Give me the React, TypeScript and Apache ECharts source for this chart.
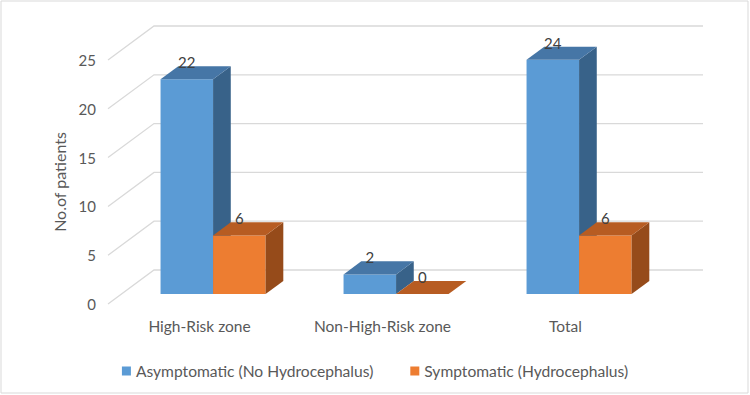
import { useEffect, useRef } from "react";
import * as echarts from "echarts";

const categories = ["High-Risk zone", "Non-High-Risk zone", "Total"];
const asymptomatic = [22, 2, 24];
const symptomatic = [6, 0, 6];
const yTicks = [0, 5, 10, 15, 20, 25];
const seriesNames = ["Asymptomatic (No Hydrocephalus)", "Symptomatic (Hydrocephalus)"];

// depth vector of the 3D plot box (front plane -> back wall), in px
const WALL: [number, number] = [46, -34];
// bar front / back faces as fractions of the box depth
const BAR_FRONT = 0.295;
const BAR_BACK = 0.68;
// bar width as a fraction of a category band
const BAR_FRAC = 0.287;

const FONT = "Lato, 'Open Sans', sans-serif";

const shades = [
  { front: "#5b9bd5", top: "#4676a6", side: "#386289" },
  { front: "#ed7d31", top: "#b75c22", side: "#964b1a" },
];

function makeBarRenderer(seriesIndex: number) {
  const c = shades[seriesIndex];
  return (params: any, api: any) => {
    const cat = api.value(0);
    const val = api.value(1);
    const base = api.coord([cat, 0]);
    const top = api.coord([cat, val]);
    const band = api.size([1, 0])[0];
    const w = band * BAR_FRAC;
    const fx = WALL[0] * BAR_FRONT;
    const fy = WALL[1] * BAR_FRONT;
    const dx = WALL[0] * (BAR_BACK - BAR_FRONT);
    const dy = WALL[1] * (BAR_BACK - BAR_FRONT);
    const x0 = base[0] + (seriesIndex === 0 ? -w : 0) + fx;
    const x1 = x0 + w;
    const yb = base[1] + fy;
    const yt = top[1] + fy;
    const children: any[] = [];
    if (yb - yt > 0.1) {
      children.push({
        type: "rect",
        shape: { x: x0, y: yt, width: w, height: yb - yt },
        style: { fill: c.front },
      });
      children.push({
        type: "polygon",
        shape: { points: [[x1, yt], [x1 + dx, yt + dy], [x1 + dx, yb + dy], [x1, yb]] },
        style: { fill: c.side },
      });
    }
    children.push({
      type: "polygon",
      shape: { points: [[x0, yt], [x1, yt], [x1 + dx, yt + dy], [x0 + dx, yt + dy]] },
      style: { fill: c.top },
    });
    children.push({
      type: "text",
      z2: 10,
      style: {
        x: x0 + w / 2,
        y: yt + dy - 4,
        text: String(val),
        fill: "#404040",
        font: `15px ${FONT}`,
        align: "center",
        verticalAlign: "middle",
      },
    });
    return { type: "group", children };
  };
}

function renderGridLine(params: any, api: any) {
  const p = api.coord([0, api.value(1)]);
  const left = params.coordSys.x;
  const width = params.coordSys.width;
  const y = p[1];
  return {
    type: "polyline",
    shape: {
      points: [
        [left, y],
        [left + WALL[0], y + WALL[1]],
        [left + WALL[0] + width, y + WALL[1]],
      ],
    },
    style: { stroke: "#d9d9d9", lineWidth: 1.3, fill: "none" },
  };
}

export default function App() {
  const ref = useRef<HTMLDivElement>(null);

  useEffect(() => {
    if (!ref.current) return;
    const chart = echarts.init(ref.current, undefined, { renderer: "svg" });
    chart.setOption({
      animation: false,
      backgroundColor: "#ffffff",
      textStyle: { fontFamily: FONT },
      grid: { left: 108, top: 60, width: 549, height: 244 },
      legend: {
        data: seriesNames,
        top: 358,
        left: "center",
        icon: "rect",
        itemWidth: 9,
        itemHeight: 9,
        itemGap: 37,
        textStyle: { color: "#595959", fontSize: 15.6, fontFamily: FONT },
      },
      xAxis: {
        type: "category",
        data: categories,
        axisLine: { show: false },
        axisTick: { show: false },
        axisLabel: { color: "#595959", fontSize: 15.5, margin: 14, fontFamily: FONT },
      },
      yAxis: {
        type: "value",
        min: 0,
        max: 25,
        interval: 5,
        name: "No.of patients",
        nameLocation: "middle",
        nameGap: 41,
        nameRotate: 90,
        nameTextStyle: { color: "#595959", fontSize: 16, fontFamily: FONT },
        axisLine: { show: false },
        axisTick: { show: false },
        splitLine: { show: false },
        axisLabel: { color: "#595959", fontSize: 15, margin: 12, fontFamily: FONT },
      },
      graphic: [
        {
          type: "rect",
          shape: { x: 1, y: 1, width: 747, height: 392 },
          style: { fill: "none", stroke: "#d9d9d9", lineWidth: 1 },
          silent: true,
        },
      ],
      series: [
        {
          type: "custom",
          silent: true,
          z: 1,
          renderItem: renderGridLine,
          data: yTicks.map((v) => [0, v]),
        },
        {
          type: "custom",
          name: seriesNames[0],
          z: 2,
          itemStyle: { color: shades[0].front },
          renderItem: makeBarRenderer(0),
          data: asymptomatic.map((v, i) => [i, v]),
        },
        {
          type: "custom",
          name: seriesNames[1],
          z: 3,
          itemStyle: { color: shades[1].front },
          renderItem: makeBarRenderer(1),
          data: symptomatic.map((v, i) => [i, v]),
        },
      ],
    });
    return () => chart.dispose();
  }, []);

  return (
    <div
      ref={ref}
      style={{ position: "fixed", left: 0, top: 0, width: 750, height: 395 }}
    />
  );
}
